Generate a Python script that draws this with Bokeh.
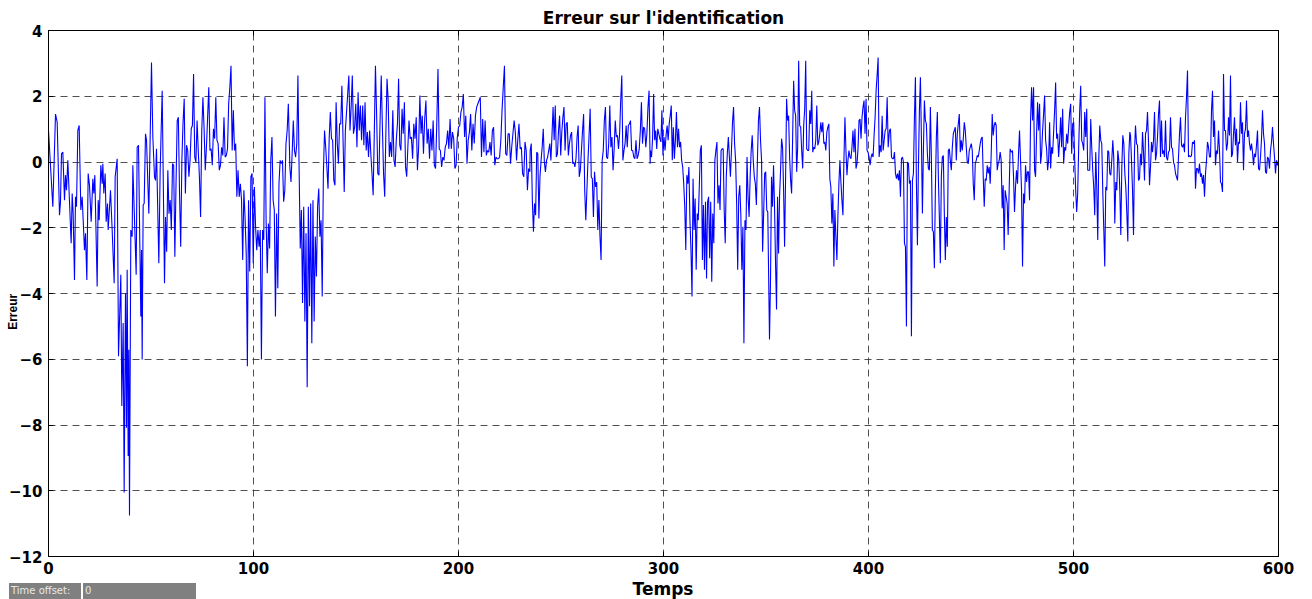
import numpy as np
from bokeh.plotting import figure
from bokeh.models import Range1d, FixedTicker, LinearAxis, Div
from bokeh.layouts import column
from bokeh.embed import file_html
from bokeh.resources import INLINE

# ---------------------------------------------------------------------------
# Identification error, sampled over 0..600 s
# ---------------------------------------------------------------------------
x_ticks = [0, 100, 200, 300, 400, 500, 600]
y_ticks = [-12, -10, -8, -6, -4, -2, 0, 2, 4]

# first stretch (0 - 57 s), irregular sample times
t_a = [0.0, 2.11, 3.42, 4.23, 5.37, 5.85, 6.34, 6.99, 7.81, 8.29,
       8.78, 9.43, 11.06, 11.55, 12.03, 12.68, 13.17, 13.66, 14.31, 14.96,
       15.77, 16.42, 17.56, 18.05, 18.70, 19.35, 20.00, 20.81, 21.63, 22.11,
       22.60, 23.74, 24.23, 24.72, 25.53, 26.18, 26.50, 26.99, 27.64, 28.13,
       28.78, 29.11, 30.24, 31.06, 32.03, 32.52, 33.50, 34.15, 35.28, 35.77,
       36.42, 36.91, 37.56, 38.05, 38.37, 38.86, 39.19, 39.51, 40.16, 40.81,
       41.14, 42.77, 43.25, 43.90, 45.04, 45.37, 45.69, 46.18, 46.67, 47.32,
       47.81, 48.94, 50.24, 50.90, 51.71, 52.20, 52.68, 53.82, 54.47, 55.45,
       56.59]
e_a = [0.96, -1.36, 1.46, 1.21, -1.62, -1.21, 0.25, 0.30, -1.16, -0.40,
       -0.86, 0.05, -2.47, -0.96, -1.57, -3.59, -1.06, -1.36, 0.96, 1.11,
       -1.46, -1.06, -2.68, -2.17, -3.59, -0.35, -0.71, -1.82, -0.51, -0.96,
       -0.40, -3.79, -1.16, -1.77, -0.10, -0.66, -0.05, -0.96, -0.35, -1.82,
       -1.26, -2.07, -0.86, -2.07, -3.69, -0.45, 0.10, -5.91, -3.43, -7.42,
       -4.90, -10.05, -3.99, -8.08, -3.28, -8.94, -5.71, -10.75, -2.07, -2.27,
       -0.10, -3.43, 0.45, 0.51, -4.70, -2.68, -6.01, -1.31, -1.26, 0.86,
       0.66, -1.57, 3.03, 0.76, -0.45, -0.56, 0.40, -3.08, -0.25, 2.17,
       -3.69]

# following stretches: evenly spaced samples between start and end times
e_b = [-1.67, -2.73, -0.25, -1.57, -1.16, -2.07, -0.05, -0.10, -2.88, -0.66,
       1.26, 1.36, -0.96, -2.58, 0.05, 1.21, 1.92, -0.96, 0.51, 0.35,
       -0.45, 0.05, 1.01, 1.11, 2.68, 0.15, 0.0, 1.26, 0.35, -0.45,
       -1.67, 0.96, 1.97, 1.01, -0.25, 0.45, 1.36, 2.27, 0.35, 0.40,
       -0.10, 1.01, 0.71, 1.97, 0.66, 0.56, -0.25, -0.10, 0.45, 0.20,
       1.36, 0.15, 0.20, 0.40, 1.77, 2.27, 2.93, 0.35, 1.57, 0.35,
       0.56, -1.06, -0.25, -1.06, -0.66, -1.16, -2.98, -0.86, -1.67, -2.78,
       -6.21, -1.16, -3.33, -0.45, -0.35, -3.08, -0.76, -1.97, -2.68, -2.07,
       -2.58, -2.07, -6.01, -2.07, -2.37, 1.97, -1.77, -3.38, -1.87, -2.63,
       0.05, 0.76, -1.16, -1.46, -4.70, -1.57, -3.84, -0.66, 0.05, -0.05,
       0.05, -1.21, -0.86, 0.56, 0.96, 1.77, 0.35]

e_c = [-0.15, -0.61, 0.25, 1.26, 0.35, 0.15, 0.56, 2.63, -0.15, -2.63,
       -1.46, -4.29, -1.36, -4.85, -2.17, -6.85, -1.36, -4.39, -1.26, -5.51,
       -1.16, -4.85, -2.27, -3.48, -1.36, -0.81, -2.27, -1.77, -4.09, -0.35,
       0.96, 0.45, -0.15, -0.81, 0.71, 1.52, 0.71, 0.66, -0.56, -0.71,
       1.82, 0.56, -0.05, 1.16, 1.16, 2.32, 0.66, -0.91, 0.96, 1.52,
       2.07, 2.63, 0.96, 1.67, 2.63, 0.86, 1.06, 1.77, 0.45, 2.12,
       0.96, 1.72, 0.66, 1.72, 0.51, 1.82, 0.35, 0.91, 0.15, 0.96,
       0.25, -0.35, -1.01, 0.86, 2.93, 1.46, -0.35, -0.40, 1.26, 2.63,
       1.06, -0.35, -1.06, 0.86, 2.53, 1.87, 0.15, 0.61, 0.15, 1.57,
       0.05, -0.15, 0.66, 1.16, 2.53, 0.51, 0.35, 1.62, 0.86, 1.82,
       -0.15, -0.45, 0.45, 1.26, 0.71]

e_d = [0.71, 0.76, 0.10, 1.16, 0.71, 1.36, -0.25, 0.45, 2.02, 0.86,
       1.41, 0.25, 1.31, 1.87, 0.56, 1.01, 0.10, 1.01, 0.35, 1.26,
       -0.10, -0.20, 1.16, 2.83, 0.40, 0.35, -0.15, 0.15, 0.05, 0.45,
       0.56, 0.96, 0.40, 1.31, 0.40, 0.91, 0.71, -0.20, -0.10, 0.76,
       1.06, 1.11, 1.52, 1.67, 2.07, 0.76, 1.41, -0.05, 0.66, 0.91,
       1.46, 0.35, 1.16, 0.56, 1.41, 1.67, 1.77, 1.87, 1.97, 0.15,
       1.31, 0.30, 1.26, 0.20, 0.35, 0.30, 0.61, 0.20, 0.96, 1.06,
       -0.10, 0.15, 0.10, 0.10, 0.15, 0.66, 1.57, 2.27, 2.93, 0.25,
       0.20, 0.86, 0.86, -0.05, 0.45, 0.86, 1.26, 0.91, 0.05, 0.66,
       1.16, 0.40, 0.45, -0.35, -0.45, 0.61, 0.35, -0.86, -0.20, -0.30]

e_e = [0.35, 0.56, -1.16, -2.12, -1.26, -1.62, 0.30, 0.25, -1.72, -0.45,
       0.05, 0.45, 1.01, 0.0, -0.30, 0.05, 0.15, 0.35, 0.56, 0.05,
       0.81, 1.67, 0.66, 1.72, 0.15, 0.25, 0.96, 1.41, 0.20, 0.91,
       1.36, 1.67, 0.35, 1.16, 1.21, 0.20, 0.56, 0.81, 0.91, -0.05,
       0.0, -0.15, 0.10, 0.76, 1.11, -0.45, -0.25, 0.35, 0.96, 1.46,
       -0.86, -1.77, -0.86, 0.05, 0.81, 1.62, -0.45, -0.51, -1.67, -0.30,
       -0.76, -0.61, -2.07, -1.16, -2.27, -2.98, 0.05, 0.35, 1.26, 1.67,
       0.15, 0.10, 0.56, 1.72, 0.45, 0.76, -0.25, 0.40, 1.26, 0.76,
       0.81, 0.40, 0.86, 1.87, 2.63, 0.05, 0.35, 0.56, 1.11, 0.45,
       1.11, 1.16, 1.26, 0.35, 0.35, 0.15, 0.10, 0.66, 0.10, 0.20,
       0.40, 0.96, 1.82, 0.56, 1.06, 1.01, 0.45, 0.86, 1.67, 2.17,
       -0.05]

e_f = [0.35, 0.15, 0.71, 2.07, 0.66, 0.96, 0.40, 1.01, 0.86, 0.71,
       0.61, 1.57, 0.20, 0.76, 0.35, 0.81, 1.11, 0.66, 1.16, 1.41,
       1.72, 0.05, 1.06, 0.10, 0.66, 1.52, 0.45, 1.01, 0.45, 0.61,
       0.05, -0.15, -0.66, -1.36, -2.68, -0.40, -0.66, -0.15, -1.77, -2.68,
       -4.09, -0.51, -2.07, -1.11, -3.28, -1.57, -1.77, -0.76, 0.35, 0.51,
       -2.98, -1.31, -3.28, -1.21, -3.54, -1.21, -1.06, -2.93, -1.21, -3.64,
       -1.57, -2.47, 0.05, 0.35, 0.61, -1.26, -0.71, -1.46, 0.35, 0.40,
       0.40, -1.46, -2.47, -0.45, 0.25, 0.76, 0.15, -0.45, 0.35, 1.21,
       1.67, 0.56, 0.05, -1.26, -3.28, -1.06, -0.71, -1.57, -3.28, -1.97,
       -5.51, -1.77, -2.07, 0.15, -1.06, -1.67, -0.45, 0.35, 0.81, 0.05,
       -0.45, -0.66, -1.31, 0.05, 1.26, 1.67, 0.66, 0.05, -2.73, -1.57,
       -0.35, -0.30, -1.46, -1.52, -3.89]

e_g = [-5.40, -3.59, -0.45, -1.36, -0.10, -1.36, -3.08, -4.49, -1.06, -2.78,
       -1.06, -0.25, 0.71, 0.45, -0.86, -2.58, -0.45, 1.92, 1.26, 1.41,
       0.15, -0.56, -0.96, 0.76, 2.47, 1.57, 1.41, -0.30, 0.45, 3.08,
       1.11, 1.06, 0.35, -0.20, 1.11, 1.62, 3.08, 0.40, 0.35, 0.35,
       1.57, 1.16, 2.17, 0.30, 0.45, 0.40, 0.66, 1.72, 0.51, 0.61,
       0.86, 1.21, 0.91, 1.21, 0.56, 0.61, 0.35, 0.91, 1.06, 1.16,
       -0.51, -0.76, -1.87, -0.96, -3.18, -1.46, -2.27, -2.98, -1.67, -0.66,
       0.05, -0.61, -1.16, -1.62, 0.05, 1.36, 0.35, -0.40, 0.05, 0.35,
       0.15, 0.10, 0.45, 0.96, 0.30, 1.01, -0.20, -0.05, 0.40, 1.26,
       1.31, 0.71, 1.36, 1.67, 1.87, 0.86, 1.92, 0.35, 0.30, 0.15,
       -0.10, 0.15, 0.25, 0.15, 0.81, 1.36, 2.17, 2.63, 3.18, 0.15,
       0.51, 0.30, 1.41, 0.35, 0.66, 0.96, 1.01, 1.97, 0.45, 0.86]

e_h = [0.96, 1.01, 0.15, 0.10, 0.10, 0.30, -0.35, -0.51, -0.35, -0.56,
       -0.25, -1.06, 0.10, 0.15, 0.0, -2.47, -2.58, -5.00, 0.0, -0.05,
       -0.66, -0.56, -5.30, -0.56, -0.35, 1.36, 2.58, -0.66, -2.53, -0.15,
       1.57, 2.58, 0.76, -1.57, 0.35, 1.87, 1.26, 1.16, 0.25, -0.20,
       -0.25, 1.67, 0.15, -2.07, -2.12, -3.23, -0.86, 0.76, 1.52, -0.45,
       -1.67, -3.08, -0.45, 0.15, 0.20, -1.57, -2.98, -1.67, -2.58, 0.35,
       0.40, 0.05, -0.25, 0.45, 0.86, 0.96, 1.06, 0.05, 0.86, 1.16,
       1.46, 0.30, 0.66, 0.35, 0.71, 1.21, 0.96, 0.45, 0.0, -0.05,
       0.35, 0.45, 0.56, 0.35, -0.66, -1.16, -0.05, 0.05, 0.20, 0.15,
       0.35, 0.56, 0.71, 0.76, -0.45, -1.36, -0.51, -0.56, -0.10, -0.35,
       -0.15, -0.66, 0.25, 1.46, 0.81, 1.11, 1.21, 1.11, -0.25, -0.05,
       0.05, 0.30, 0.05, -1.41, -0.71, -2.68, -0.86, -1.06, -1.26, -2.22,
       -0.86, 0.40]

e_i = [0.35, 0.30, 0.35, -0.45, -1.52, -0.76, -0.25, -0.66, 0.25, 0.96,
       0.05, -0.86, -3.18, -0.96, -1.26, -0.10, -0.61, -0.30, -0.30, -1.16,
       1.26, 2.27, 1.26, 2.27, -0.25, -0.45, 0.86, 1.82, 0.96, 1.77,
       -0.05, 0.25, 0.96, 1.46, 2.02, 0.66, 0.40, -0.25, 0.05, 1.21,
       -0.20, 0.45, 0.25, 0.91, 1.57, 2.42, 0.71, 0.86, 0.15, 0.66,
       1.36, 0.45, 1.62, -0.05, 0.45, 0.35, 0.86, 0.56, 1.06, 1.52,
       1.77, 0.25, 1.16, 1.21, 0.05, -0.86, -1.52, -0.96, 0.45, 1.57,
       2.32, 0.66, 0.56, 0.35, 1.52, 0.76, 1.62, -0.25, -0.25, -0.25,
       1.31, 0.45, -0.25, -0.76, -1.62, 0.30, -0.76, -2.37, 0.05, 1.11,
       0.66, 0.56, -0.86, -2.02, -3.18, -0.76, -0.86, 0.35, 0.30, -0.35,
       -0.40, 0.05, 0.66, 0.10, -1.87, -0.61, -0.86, 0.35, 0.05, -0.86,
       -2.22, -0.15, 0.81, 0.56, -0.35, -0.76, -1.57, -2.42, 0.25, 0.91]

e_j = [0.81, 0.05, -0.86, -2.22, 0.35, 1.11, 0.56, 0.51, -0.56, -0.51,
       0.25, -0.10, 0.91, 0.30, -0.56, 0.86, 0.96, 1.52, 0.61, -0.71,
       -0.15, 0.61, 0.30, 0.66, 1.52, 0.05, 0.25, 0.76, 1.46, 1.87,
       0.15, 1.26, 0.25, 0.35, 0.15, 1.26, 0.15, 0.05, 0.30, 0.35,
       1.36, 0.45, 0.40, 0.0, -0.10, -0.35, -0.45, -0.56, 0.15, 0.86,
       1.36, 0.51, 0.45, 0.56, 0.30, 1.36, 1.97, 2.78, 0.15, 0.20,
       0.15, 0.20, 0.61, 0.56, 0.66, -0.81, -0.20, -0.20, -0.35, -0.05,
       -0.45, -0.35, -0.66, -0.40, -1.06, -0.35, 0.05, 0.61, 0.45, 0.15,
       0.15, 1.57, 2.17, 0.76, 1.26, -0.10, 0.35, 0.25, 0.96, 0.35,
       -0.61, -0.66, -0.91, 2.68, 0.96, 0.96, 0.35, 0.56, 1.36, 0.81,
       2.63, 0.15, 0.25, 0.86, 1.36, 0.51, 1.01, 0.0, 0.61, 0.56,
       1.82, 0.86, 1.21, -0.25, 0.86, 1.01, 1.87, 0.76, 0.96, 0.56,
       0.35, 0.56, 0.30, -0.10, 0.25, 0.15, 0.51, 0.96, -0.20, -0.25,
       0.15, 0.71, 1.57, 0.86, 0.56, -0.30, -0.35, 0.15, 0.10, -0.20,
       0.35, 0.61, 1.06, 0.56, 0.15, -0.35, 0.05, -0.10, 0.05]

# (start time, end time, samples) for each evenly sampled stretch
stretches = [
    (57.07, 117.56, e_b),
    (117.72, 176.42, e_c),
    (176.43, 234.80, e_d),
    (234.96, 293.49, e_e),
    (293.66, 351.38, e_f),
    (351.71, 410.09, e_g),
    (410.24, 469.10, e_h),
    (469.27, 527.48, e_i),
    (527.81, 600.00, e_j),
]

temps = list(t_a)
erreur = list(e_a)
for t0, t1, vals in stretches:
    temps.extend(np.linspace(t0, t1, len(vals)).tolist())
    erreur.extend(vals)

# ---------------------------------------------------------------------------
# Scope axes
# ---------------------------------------------------------------------------
W = 1312
H_MAIN, H_FOOT = 581, 18
FONT = "DejaVu Sans"

p = figure(width=W, height=H_MAIN, output_backend="svg", toolbar_location=None,
           x_range=Range1d(0, 600), y_range=Range1d(-12, 4),
           min_border_left=48, min_border_right=34,
           min_border_top=30, min_border_bottom=H_MAIN - 556,
           background_fill_color="white", border_fill_color="white",
           title="Erreur sur l'identification")
p.outline_line_color = "black"
p.outline_line_width = 1

p.title.align = "center"
p.title.text_font = FONT
p.title.text_font_style = "bold"
p.title.text_font_size = "17px"
p.title.text_color = "black"
p.title.standoff = 5

p.xaxis.ticker = FixedTicker(ticks=x_ticks)
p.yaxis.ticker = FixedTicker(ticks=y_ticks)
for ax in list(p.xaxis) + list(p.yaxis):
    ax.major_tick_in = 5
    ax.major_tick_out = 0
    ax.minor_tick_line_color = None
    ax.axis_line_color = "black"
    ax.major_tick_line_color = "black"
    ax.major_label_text_font = FONT
    ax.major_label_text_font_style = "bold"
    ax.major_label_text_font_size = "15px"
    ax.major_label_text_color = "black"
p.xaxis.major_label_standoff = 5
p.yaxis.major_label_standoff = 6

# y-axis title on a bare axis, pulled in over the tick-label column;
# trailing no-break spaces set the word a little below the middle
ylab = LinearAxis(ticker=FixedTicker(ticks=[]),
                  axis_label="Erreur" + "\u00a0" * 11,
                  axis_label_standoff=-13,
                  axis_line_color=None, major_tick_line_color=None,
                  minor_tick_line_color=None, major_label_text_color=None,
                  axis_label_text_font="Liberation Sans Narrow, Liberation Sans",
                  axis_label_text_font_style="bold",
                  axis_label_text_font_size="12px",
                  axis_label_text_color="black")
p.add_layout(ylab, "left")

# box-style ticks on the top and right edges (no labels)
for side, ticks in (("above", x_ticks), ("right", y_ticks)):
    ax = LinearAxis(ticker=FixedTicker(ticks=ticks),
                    major_label_text_color=None,
                    major_label_text_font_size="1px",
                    major_label_standoff=0,
                    major_tick_in=5, major_tick_out=0,
                    minor_tick_line_color=None,
                    axis_line_color="black",
                    major_tick_line_color="black")
    p.add_layout(ax, side)

p.grid.grid_line_color = "#333333"
p.grid.grid_line_dash = "7 5"
p.grid.grid_line_width = 1
p.grid.grid_line_alpha = 0.85

p.line(temps, erreur, line_color="#0000ff", line_width=1.1)

# ---------------------------------------------------------------------------
# Footer strip: time-offset field and the x-axis title
# ---------------------------------------------------------------------------
field = ("position:absolute;top:2px;height:16px;background:#808080;"
         "color:#e8e8e8;font-size:10px;line-height:16px;padding-left:2px;"
         "box-sizing:border-box;white-space:nowrap;font-family:'DejaVu Sans';")
footer_html = (
    f'<div style="position:relative;width:{W}px;height:{H_FOOT}px;">'
    f'<div style="{field}left:9px;width:72px;">Time offset:</div>'
    f'<div style="{field}left:83px;width:113px;">0</div>'
    '<div style="position:absolute;left:48px;top:0;width:1230px;'
    "text-align:center;font-family:'DejaVu Sans';font-weight:bold;"
    'font-size:17px;line-height:17px;color:black;">Temps</div>'
    '</div>'
)
foot = Div(text=footer_html, width=W, height=H_FOOT, margin=(0, 0, 0, 0))

layout = column(p, foot, spacing=0)

open("out.html", "w").write(file_html(layout, INLINE))
